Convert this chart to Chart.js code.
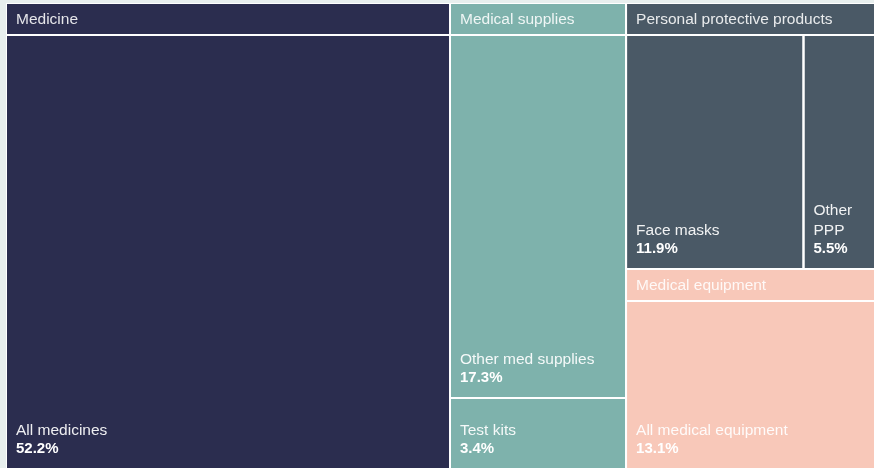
<!DOCTYPE html>
<html>
<head>
<meta charset="utf-8">
<script src="https://cdn.jsdelivr.net/npm/chart.js@4/dist/chart.umd.min.js"></script>
<style>
  html, body { margin: 0; padding: 0; background: #e8efee; }
  #wrap { width: 874px; height: 468px; position: relative; }
</style>
</head>
<body>
<div id="wrap"><canvas id="c" width="874" height="468"></canvas></div>
<script>
// ---- data ----
const groups = ['Medicine', 'Medical supplies', 'Personal protective products', 'Medical equipment'];
const items = ['All medicines', 'Other med supplies', 'Test kits', 'Face masks', 'Other PPP', 'All medical equipment'];
const itemGroup = [0, 1, 1, 2, 2, 3];
const shares = [52.2, 17.3, 3.4, 11.9, 5.5, 13.1];

// ---- styles ----
const groupColors = ['#2b2d4f', '#7eb2ac', '#4a5966', '#f8c8b9'];
const groupDir = ['v', 'v', 'h', 'v'];
const layoutTree = { dir: 'h', children: [{ group: 0 }, { group: 1 }, { dir: 'v', children: [{ group: 2 }, { group: 3 }] }] };
const TW = 879.5, TH = 466.3, HEADER = 32, GAP = 1;
const FONT = '"Liberation Sans", Arial, Helvetica, sans-serif';

function groupTotal(g) {
  let s = 0;
  shares.forEach((v, i) => { if (itemGroup[i] === g) s += v; });
  return s;
}
function nodeValue(n) {
  if (n.group !== undefined) return groupTotal(n.group);
  return n.children.reduce((a, c) => a + nodeValue(c), 0);
}

const cells = [];
function splitRect(r, values, dir) {
  const tot = values.reduce((a, b) => a + b, 0);
  const out = [];
  let pos = dir === 'h' ? r.x0 : r.y0;
  values.forEach(v => {
    const len = (dir === 'h' ? (r.x1 - r.x0) : (r.y1 - r.y0)) * v / tot;
    if (dir === 'h') out.push({ x0: pos, x1: pos + len, y0: r.y0, y1: r.y1 });
    else out.push({ x0: r.x0, x1: r.x1, y0: pos, y1: pos + len });
    pos += len;
  });
  return out;
}
function layoutNode(n, r) {
  if (n.group !== undefined) {
    const g = n.group;
    cells.push({ ...r, y1: r.y0 + HEADER, color: groupColors[g], kind: 'header', text: groups[g] });
    const body = { x0: r.x0, x1: r.x1, y0: r.y0 + HEADER, y1: r.y1 };
    const idx = items.map((_, i) => i).filter(i => itemGroup[i] === g);
    const rects = splitRect(body, idx.map(i => shares[i]), groupDir[g]);
    idx.forEach((i, k) => cells.push({ ...rects[k], color: groupColors[g], kind: 'item', text: items[i], pct: shares[i].toFixed(1) + '%' }));
    return;
  }
  const rects = splitRect(r, n.children.map(nodeValue), n.dir);
  n.children.forEach((c, k) => layoutNode(c, rects[k]));
}
layoutNode(layoutTree, { x0: 0, y0: 0, x1: TW, y1: TH });

const datasets = cells.map(c => ({
  data: [{ x: c.x0 + GAP, y: c.y0 + GAP }, { x: c.x1 - GAP, y: c.y0 + GAP }],
  fill: { target: { value: c.y1 - GAP } },
  backgroundColor: c.color,
  borderWidth: 0,
  pointRadius: 0,
  pointHoverRadius: 0,
  showLine: true,
  tension: 0
}));

function wrap(ctx, text, maxW) {
  const words = text.split(' ');
  const lines = [];
  let cur = '';
  words.forEach(w => {
    const t = cur ? cur + ' ' + w : w;
    if (ctx.measureText(t).width > maxW && cur) { lines.push(cur); cur = w; }
    else cur = t;
  });
  if (cur) lines.push(cur);
  return lines;
}

const labelPlugin = {
  id: 'labels',
  beforeDraw(chart) {
    const { ctx, chartArea: a } = chart;
    ctx.save();
    ctx.fillStyle = '#ffffff';
    ctx.fillRect(a.left, a.top, a.right - a.left, a.bottom - a.top);
    ctx.restore();
  },
  afterDatasetsDraw(chart) {
    const { ctx } = chart;
    const xs = chart.scales.x, ys = chart.scales.y;
    ctx.save();
    ctx.textBaseline = 'middle';
    ctx.textAlign = 'left';
    cells.forEach(c => {
      const left = xs.getPixelForValue(c.x0 + GAP);
      const right = xs.getPixelForValue(c.x1 - GAP);
      const top = ys.getPixelForValue(c.y0 + GAP);
      const bottom = ys.getPixelForValue(c.y1 - GAP);
      const tx = left + 9;
      if (c.kind === 'header') {
        ctx.font = '15.5px ' + FONT;
        ctx.fillStyle = 'rgba(255,255,255,0.88)';
        ctx.fillText(c.text, tx, (top + bottom) / 2 + 0.5);
      } else {
        const pctY = Math.min(bottom, 468) - 19;
        ctx.font = 'bold 15px ' + FONT;
        ctx.fillStyle = '#ffffff';
        ctx.fillText(c.pct, tx, pctY);
        ctx.font = '15.5px ' + FONT;
        ctx.fillStyle = 'rgba(255,255,255,0.92)';
        const lines = wrap(ctx, c.text, Math.min(right, 874) - left - 18);
        let y = pctY - 18.5;
        for (let i = lines.length - 1; i >= 0; i--) {
          ctx.fillText(lines[i], tx, y);
          y -= 20;
        }
      }
    });
    ctx.restore();
  }
};

new Chart(document.getElementById('c'), {
  type: 'scatter',
  data: { datasets },
  options: {
    responsive: false,
    animation: false,
    events: [],
    layout: { padding: { left: 6, top: 3, right: 0, bottom: 0 } },
    plugins: { legend: { display: false }, tooltip: { enabled: false } },
    scales: {
      x: { type: 'linear', min: 0, max: 868, display: false },
      y: { type: 'linear', min: 0, max: 465, reverse: true, display: false }
    }
  },
  plugins: [labelPlugin]
});
</script>
</body>
</html>
